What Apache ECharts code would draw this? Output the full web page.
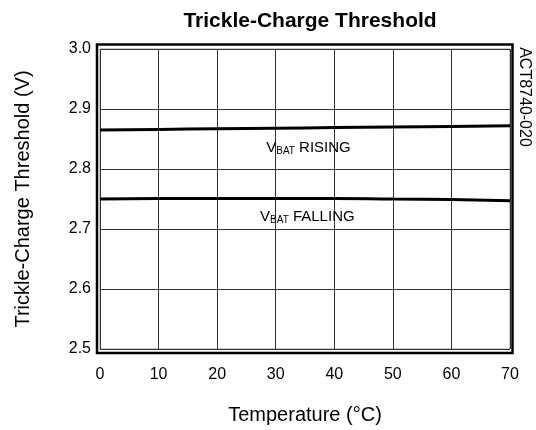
<!DOCTYPE html>
<html>
<head>
<meta charset="utf-8">
<script src="https://cdn.jsdelivr.net/npm/echarts@6/dist/echarts.min.js"></script>
<style>html,body{margin:0;padding:0;background:#fff;}#c{width:536px;height:430px;}</style>
</head>
<body>
<div id="c"></div>
<script>
const temps = [0, 10, 20, 30, 40, 50, 60, 70];
const rising = [2.865, 2.866, 2.867, 2.868, 2.869, 2.870, 2.871, 2.872];
const falling = [2.750, 2.751, 2.751, 2.751, 2.751, 2.750, 2.749, 2.747];
const xTicks = [0, 10, 20, 30, 40, 50, 60, 70];
const yTicks = [2.5, 2.6, 2.7, 2.8, 2.9, 3.0];
const risingLabel = {x: 35.6, y: 2.836};
const fallingLabel = {x: 35.4, y: 2.721};

const font = 'Liberation Sans, Arial, sans-serif';
const chart = echarts.init(document.getElementById('c'));
const rich = {
  v: {fontSize: 15, fontFamily: font, color: '#000', lineHeight: 18},
  s: {fontSize: 10, fontFamily: font, color: '#000', lineHeight: 18, padding: [8, 0, 0, 0]},
  t: {fontSize: 15, fontFamily: font, color: '#000', lineHeight: 18}
};
function lbl(pt, txt) {
  return {
    symbol: 'circle',
    symbolSize: 1,
    silent: true,
    itemStyle: {color: 'rgba(0,0,0,0)'},
    label: {show: true, position: 'inside', formatter: '{v|V}{s|BAT}{t| ' + txt + '}', rich: rich},
    data: [{coord: [pt.x, pt.y]}]
  };
}
chart.setOption({
  animation: false,
  backgroundColor: '#fff',
  title: {
    text: 'Trickle-Charge Threshold',
    left: 305, top: 6, textAlign: 'center',
    textStyle: {fontFamily: font, fontWeight: 'bold', fontSize: 21, color: '#000'}
  },
  grid: {left: 100, right: 26, top: 49, bottom: 81, show: true, borderColor: '#999', borderWidth: 1},
  xAxis: {
    type: 'value', min: xTicks[0], max: xTicks[xTicks.length - 1], interval: 10,
    name: 'Temperature (°C)', nameLocation: 'middle', nameGap: 56,
    nameTextStyle: {fontFamily: font, fontSize: 20, color: '#000'},
    axisLine: {show: false}, axisTick: {show: false},
    axisLabel: {margin: 18, fontFamily: font, fontSize: 16, color: '#000'},
    splitLine: {show: true, lineStyle: {color: '#333', width: 1}}
  },
  yAxis: {
    type: 'value', min: yTicks[0], max: yTicks[yTicks.length - 1], interval: 0.1,
    name: 'Trickle-Charge Threshold (V)', nameLocation: 'middle', nameGap: 67,
    nameTextStyle: {fontFamily: font, fontSize: 20, color: '#000'},
    axisLine: {show: false}, axisTick: {show: false},
    axisLabel: {margin: 9, fontFamily: font, fontSize: 16, color: '#000', formatter: v => v.toFixed(1)},
    splitLine: {show: true, lineStyle: {color: '#333', width: 1}}
  },
  series: [
    {type: 'line', data: temps.map((t, i) => [t, rising[i]]), symbol: 'none', smooth: true,
      lineStyle: {color: '#000', width: 3}, markPoint: lbl(risingLabel, 'RISING')},
    {type: 'line', data: temps.map((t, i) => [t, falling[i]]), symbol: 'none', smooth: true,
      lineStyle: {color: '#000', width: 3}, markPoint: lbl(fallingLabel, 'FALLING')}
  ],
  graphic: [
    {type: 'rect', shape: {x: 97, y: 44.5, width: 415.5, height: 308.5},
      style: {fill: null, stroke: '#000', lineWidth: 2.5}, silent: true},
    {type: 'text', x: 524, y: 97, rotation: -Math.PI / 2,
      style: {text: 'ACT8740-020', fontFamily: font, fontSize: 16, fill: '#000', align: 'center', verticalAlign: 'middle'}}
  ]
});
</script>
</body>
</html>
